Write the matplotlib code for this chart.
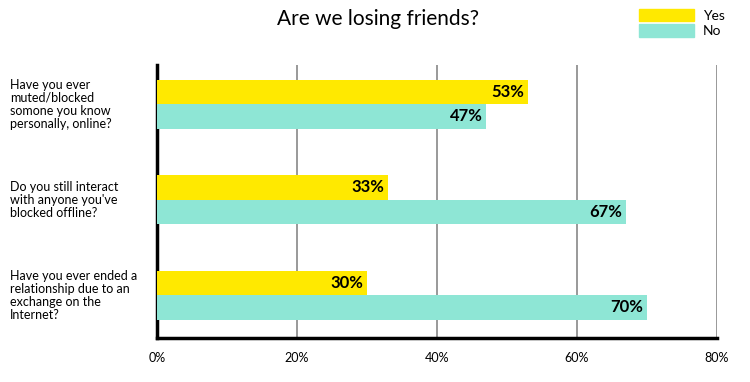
import numpy as np
import matplotlib.pyplot as plt
from matplotlib.patches import Patch

questions = [
    "Have you ever\nmuted/blocked\nsomone you know\npersonally, online?",
    "Do you still interact\nwith anyone you've\nblocked offline?",
    "Have you ever ended a\nrelationship due to an\nexchange on the\nInternet?",
]
yes_vals = [53, 33, 30]
no_vals = [47, 67, 70]
xticks = [0, 20, 40, 60, 80]

YELLOW = "#ffe900"
TEAL = "#8ee6d5"

plt.rcParams['font.family'] = ['Lato', 'DejaVu Sans']

fig = plt.figure(figsize=(7.5, 3.82), dpi=100)
ax = fig.add_axes([0.2093, 0.1152, 0.7467, 0.7146])

y = np.arange(len(questions))
h = 0.257
ax.barh(y - h / 2, yes_vals, height=h, color=YELLOW, zorder=3)
ax.barh(y + h / 2, no_vals, height=h, color=TEAL, zorder=3)

for i in range(len(questions)):
    ax.text(yes_vals[i] - 0.5, y[i] - h / 2, f"{yes_vals[i]}%", ha='right', va='center',
            fontsize=12, fontweight='bold', color='black', zorder=4)
    ax.text(no_vals[i] - 0.5, y[i] + h / 2, f"{no_vals[i]}%", ha='right', va='center',
            fontsize=12, fontweight='bold', color='black', zorder=4)

ax.set_xlim(0, 80)
ax.set_ylim(2.45, -0.41)
ax.set_xticks(xticks)
ax.set_xticklabels([f"{v}%" for v in xticks], fontsize=9)
ax.tick_params(axis='x', length=0, pad=10)
ax.set_yticks(y)
ax.set_yticklabels([])
ax.tick_params(axis='y', length=0)

for i, q in enumerate(questions):
    ax.text(-0.262, y[i], q, transform=ax.get_yaxis_transform(), ha='left', va='center',
            fontsize=9, linespacing=1.1)

ax.grid(axis='x', color='#888888', linewidth=1.2, zorder=0)
ax.spines['top'].set_visible(False)
ax.spines['right'].set_visible(False)
ax.spines['left'].set_linewidth(2.5)
ax.spines['bottom'].set_linewidth(2.5)

fig.text(0.504, 0.95, "Are we losing friends?", ha='center', va='center', fontsize=15)

handles = [Patch(color=YELLOW, label='Yes'), Patch(color=TEAL, label='No')]
fig.legend(handles=handles, loc='upper left', bbox_to_anchor=(0.835, 1.01), frameon=False,
           fontsize=10, handlelength=4.0, handleheight=1.0, handletextpad=0.6, labelspacing=0.2)

fig.savefig("out.png", dpi=100)
